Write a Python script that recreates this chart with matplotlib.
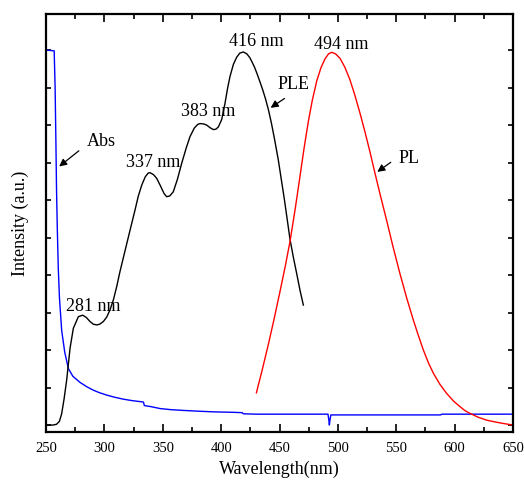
import matplotlib.pyplot as plt
from matplotlib.ticker import MultipleLocator

plt.rcParams["font.family"] = ["Liberation Serif", "DejaVu Serif"]

# PLE spectrum (black)
ple_wl = [250, 256, 259, 261.5, 263.4, 265.5, 267.7, 270.6, 273.4, 277.7,
          281.4, 284.5, 287.7, 290.5, 293.4, 296, 299.1, 302, 304.8, 307.8,
          310.6, 313.4, 317.7, 322, 326.2, 329, 332, 335, 337.5, 339.1,
          342, 344.8, 348, 351, 353.3, 356, 359, 362.5, 366.2, 370,
          373.3, 377, 380, 382, 385, 387.6, 390.5, 393.3, 395.5, 397.6,
          400.5, 403.3, 405.5, 407.6, 410.5, 413.3, 416, 419, 422, 424.5,
          426.5, 428.5, 431, 433.5, 435.5, 438, 440.4, 443, 446, 449,
          454, 459, 462, 464.7, 467.5, 470.4]
ple_y = [0.0, 0.0, 0.002, 0.01, 0.03, 0.07, 0.12, 0.205, 0.258, 0.289,
         0.293, 0.287, 0.276, 0.269, 0.267, 0.269, 0.276, 0.288, 0.307, 0.335,
         0.37, 0.41, 0.465, 0.52, 0.573, 0.61, 0.64, 0.662, 0.672, 0.673,
         0.668, 0.658, 0.638, 0.618, 0.609, 0.611, 0.622, 0.655, 0.698, 0.738,
         0.769, 0.792, 0.802, 0.804, 0.803, 0.8, 0.793, 0.788, 0.789, 0.795,
         0.815, 0.858, 0.898, 0.93, 0.962, 0.981, 0.992, 0.995, 0.99, 0.98,
         0.968, 0.955, 0.935, 0.913, 0.895, 0.87, 0.842, 0.806, 0.758, 0.706,
         0.605, 0.495, 0.445, 0.404, 0.36, 0.32]

# PL spectrum (red)
pl_wl = [430.2, 435, 440.2, 445, 450.4, 455, 459, 463.5, 467.6, 471,
         474.7, 478, 481.9, 485.5, 489, 492, 494.7, 498, 501.8, 506,
         510.4, 514.5, 518.9, 523, 527.5, 531.8, 536, 541.8, 547, 553.2,
         559, 564.6, 569, 573.2, 577.5, 581.8, 587.5, 593.2, 599, 604.6,
         609, 613.2, 620, 627.4, 635, 642, 650]
pl_y = [0.086, 0.145, 0.212, 0.278, 0.356, 0.425, 0.49, 0.578, 0.665, 0.738,
        0.81, 0.865, 0.918, 0.953, 0.977, 0.99, 0.994, 0.99, 0.978, 0.954,
        0.92, 0.88, 0.832, 0.784, 0.728, 0.671, 0.617, 0.545, 0.478, 0.403,
        0.338, 0.28, 0.238, 0.2, 0.166, 0.138, 0.108, 0.084, 0.064, 0.049,
        0.038, 0.031, 0.021, 0.013, 0.008, 0.004, 0.0]

# Absorption spectrum (blue)
abs_wl = [250, 257, 257.8, 258.5, 259, 259.7, 260.5, 261.5, 263.4, 266,
          269.1, 273, 279, 285, 290.5, 296, 301.9, 309, 316.2, 324,
          332, 333.5, 334.2, 340, 347.6, 357, 367.6, 380, 395, 410,
          418, 419, 430, 442, 460, 480, 491.5, 492.3, 492.7, 493.1,
          494, 520, 560, 588, 589, 620, 650]
abs_y = [1.0, 0.998, 0.9, 0.75, 0.63, 0.52, 0.42, 0.34, 0.253, 0.195,
         0.151, 0.13, 0.114, 0.102, 0.093, 0.086, 0.08, 0.074, 0.069, 0.065,
         0.062, 0.061, 0.052, 0.049, 0.044, 0.041, 0.039, 0.037, 0.035, 0.034,
         0.033, 0.03, 0.029, 0.029, 0.029, 0.029, 0.029, 0.012, 0.0, 0.012,
         0.027, 0.027, 0.027, 0.027, 0.029, 0.029, 0.029]

# peak labels
peak_labels = ["281 nm", "337 nm", "383 nm", "416 nm", "494 nm"]
peak_x = [290.7, 341.6, 388.8, 430.3, 503.1]
peak_y = [0.317, 0.699, 0.837, 1.024, 1.016]

fig = plt.figure(figsize=(5.24, 4.86), dpi=100)
ax = fig.add_axes([0.0878, 0.111, 0.8913, 0.86])

ax.plot(abs_wl, abs_y, color="#0000ff", lw=1.0)
ax.plot(ple_wl, ple_y, color="black", lw=1.0)
ax.plot(pl_wl, pl_y, color="#ff0000", lw=1.0)

for lab, x, y in zip(peak_labels, peak_x, peak_y):
    ax.text(x, y, lab, fontsize=13, ha="center", va="center")

# arrows pointing at the curves
arrow = dict(arrowstyle="-|>", color="black", lw=0.9, mutation_scale=11)
ax.annotate("", xy=(259.4, 0.685), xytext=(280, 0.736), arrowprops=arrow)
ax.text(297.1, 0.755, "Abs", fontsize=13, ha="center", va="center")
ax.annotate("", xy=(440.4, 0.842), xytext=(456.2, 0.875), arrowprops=arrow)
ax.text(461.6, 0.909, "PLE", fontsize=13, ha="center", va="center")
ax.annotate("", xy=(531.8, 0.671), xytext=(547.2, 0.705), arrowprops=arrow)
ax.text(560.9, 0.712, "PL", fontsize=13, ha="center", va="center")

ax.set_xlim(250, 650)
ax.set_ylim(-0.0187, 1.096)
ax.xaxis.set_major_locator(MultipleLocator(50))
ax.xaxis.set_minor_locator(MultipleLocator(25))
ax.yaxis.set_major_locator(MultipleLocator(0.1))
ax.tick_params(axis="both", which="both", direction="in",
               top=True, right=True, width=1.2)
ax.tick_params(axis="x", which="major", length=6, labelsize=10.5, pad=7)
ax.tick_params(axis="x", which="minor", length=3.5)
ax.tick_params(axis="y", which="major", length=3.5, labelleft=False)
for sp in ax.spines.values():
    sp.set_linewidth(1.6)

ax.set_xlabel("Wavelength(nm)", fontsize=13, labelpad=4)
ax.set_ylabel("Intensity (a.u.)", fontsize=13, labelpad=12)

fig.savefig("out.png", dpi=100)
